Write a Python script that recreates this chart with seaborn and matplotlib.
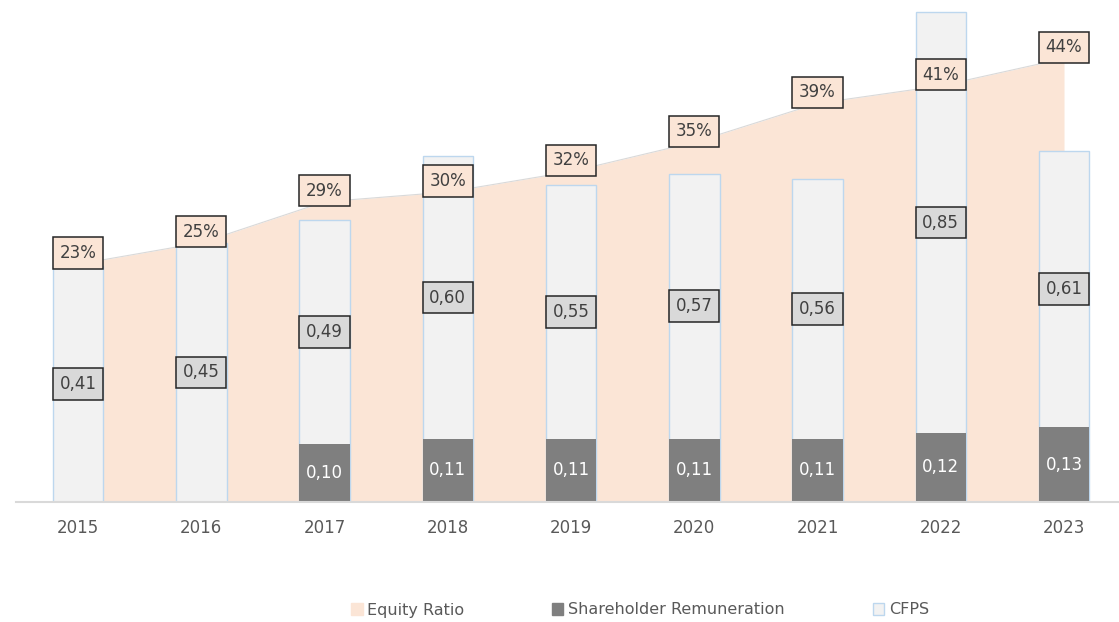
import matplotlib
matplotlib.use("Agg")
import matplotlib.pyplot as plt
import seaborn as sns
import pandas as pd
import numpy as np
from matplotlib.patches import Patch

# ---- data ----
years = ["2015", "2016", "2017", "2018", "2019", "2020", "2021", "2022", "2023"]
cfps = [0.41, 0.45, 0.49, 0.60, 0.55, 0.57, 0.56, 0.85, 0.61]
remun_years = ["2017", "2018", "2019", "2020", "2021", "2022", "2023"]
remuneration = [0.10, 0.11, 0.11, 0.11, 0.11, 0.12, 0.13]
equity_ratio = [22.9, 25.1, 29.3, 30.3, 32.4, 35.4, 39.4, 41.2, 44.0]

sns.set_theme(style="white")
plt.rcParams["font.family"] = ["DejaVu Sans"]

TXT = "#404040"
AREA = "#FBE5D6"
CF_FACE = "#F2F2F2"
CF_EDGE = "#BDD7EE"
REM = "#7F7F7F"

fig = plt.figure(figsize=(11.19, 6.22), dpi=100)
ax = fig.add_axes([16.4 / 1119, 120 / 622, (1119 - 16.4) / 1119, 502 / 622])
ax2 = ax.twinx()

# area (secondary axis) behind bars
ax.set_zorder(ax2.get_zorder() + 1)
ax.patch.set_visible(False)

x = np.arange(len(years))
ax2.fill_between(x, equity_ratio, -5, color=AREA, linewidth=0)
sns.lineplot(x=x, y=equity_ratio, ax=ax2, color="#D9D9D9", linewidth=0.8)
ax2.set_ylim(-1.5, 50)
ax2.set_xlim(-0.5, 8.446)
ax2.axis("off")

df_cf = pd.DataFrame({"year": years, "cfps": cfps})
df_rem = pd.DataFrame({"year": remun_years, "rem": remuneration})

sns.barplot(data=df_cf, x="year", y="cfps", order=years, ax=ax, color=CF_FACE,
            edgecolor=CF_EDGE, linewidth=1, width=0.41, saturation=1)
sns.barplot(data=df_rem, x="year", y="rem", order=years, ax=ax, color=REM,
            edgecolor=REM, linewidth=0, width=0.41, saturation=1)

ax.set_xlim(-0.5, 8.446)
ax.set_ylim(0, 502 / 576)
ax.set_xlabel("")
ax.set_ylabel("")
ax.set_yticks([])
for s in ["top", "right", "left"]:
    ax.spines[s].set_visible(False)
ax.spines["bottom"].set_color("#D9D9D9")
ax.spines["bottom"].set_linewidth(1.5)
ax.tick_params(axis="x", length=0, pad=12, labelsize=12, labelcolor="#595959")

rem_map = dict(zip(remun_years, remuneration))

# CFPS labels (centre of the visible light part of the bar)
for i, (yr, v) in enumerate(zip(years, cfps)):
    base = rem_map.get(yr, 0.0)
    ax.text(i, (base + v) / 2, f"{v:.2f}".replace(".", ","), ha="center", va="center",
            fontsize=12, color=TXT, zorder=10,
            bbox=dict(boxstyle="square,pad=0.4", fc="#D9D9D9", ec="#262626", lw=1.1))

# Remuneration labels
for yr, v in zip(remun_years, remuneration):
    i = years.index(yr)
    ax.text(i, v / 2, f"{v:.2f}".replace(".", ","), ha="center", va="center",
            fontsize=12, color="white", zorder=10)

# Equity ratio labels
for i, v in enumerate(equity_ratio):
    ax.annotate(f"{v:.0f}%", xy=(i, v), xycoords=ax2.transData, xytext=(0, 8),
                textcoords="offset points", ha="center", va="center",
                fontsize=12, color=TXT, zorder=11,
                bbox=dict(boxstyle="square,pad=0.4", fc=AREA, ec="#262626", lw=1.1))

handles = [Patch(facecolor=AREA, edgecolor=AREA),
           Patch(facecolor=REM, edgecolor=REM),
           Patch(facecolor=CF_FACE, edgecolor=CF_EDGE)]
labels = ["Equity Ratio", "Shareholder Remuneration", "CFPS"]
fig.legend(handles, labels, loc="center", bbox_to_anchor=(0.572, 1 - 610 / 622),
           ncol=3, frameon=False, fontsize=11.5, handlelength=0.7, handleheight=0.7,
           handletextpad=0.3, columnspacing=5.5, labelcolor="#595959")

fig.savefig("out.png", dpi=100)
